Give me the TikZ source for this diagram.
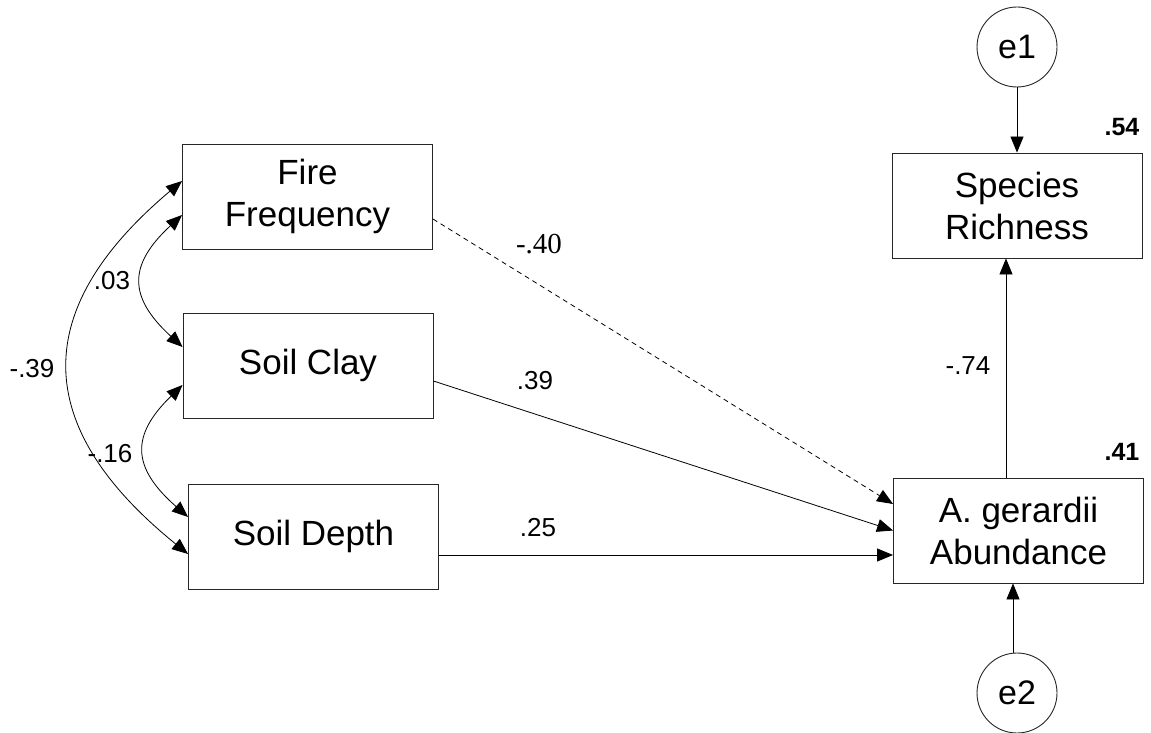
\documentclass[tikz,border=0pt]{standalone}
\usepackage{fontspec}
\setmainfont{Liberation Sans}
\newfontfamily\timesfont{Liberation Serif}
\usetikzlibrary{arrows.meta,calc}
\begin{document}
\begin{tikzpicture}[x=1pt,y=-1pt,
  var/.style={draw=black!85, line width=0.9pt, minimum width=250pt,
    minimum height=105pt, inner sep=0pt, align=center,
    font=\fontsize{35}{42}\selectfont},
  err/.style={draw=black!85, line width=0.9pt, circle, minimum size=80pt,
    inner sep=0pt, font=\fontsize{34}{40}\selectfont},
  effect/.style={line width=0.8pt, -{Triangle[length=16pt,width=13pt]}},
  cov/.style={line width=0.8pt,
    {Triangle[length=16pt,width=13pt]}-{Triangle[length=16pt,width=13pt]}},
  coef/.style={font=\fontsize{26}{30}\selectfont, inner sep=0pt},
  rsq/.style={font=\bfseries\fontsize{25}{30}\selectfont, inner sep=0pt}]

\useasboundingbox (0,0) rectangle (1151,733);

% observed variables
\node[var] (ff) at (307.5,196.5) {Fire\\Frequency};
\node[var] (sc) at (308,365.5)   {Soil Clay};
\node[var] (sd) at (313.5,536.5) {Soil Depth};
\node[var] (sr) at (1017,205.5)  {Species\\Richness};
\node[var] (ag) at (1018.5,530.5) {A. gerardii\\Abundance};

% error terms
\node[err] (e1) at (1017,47)  {e1};
\node[err] (e2) at (1017,693) {e2};

% correlations among the exogenous variables
\draw[cov] ([yshift=15.5pt]ff.west) .. controls (30,309) and (30,426) .. ([yshift=-17.5pt]sd.west);
\draw[cov] ([yshift=-18.5pt]ff.west) .. controls (128,265) and (128,297) .. ([yshift=18.5pt]sc.west);
\draw[cov] ([yshift=-19.5pt]sc.west) .. controls (131,435) and (131,467) .. ([yshift=19.5pt]sd.west);

% direct effects
\draw[effect, dash pattern=on 5pt off 4pt] ([yshift=-22.5pt]ff.east) -- ([yshift=26.5pt]ag.west);
\draw[effect] ([yshift=-15.5pt]sc.east) -- (ag.west);
\draw[effect] ([yshift=-18.5pt]sd.east) -- ([yshift=-24.5pt]ag.west);
\draw[effect] ([xshift=-12.5pt]ag.north) -- ([xshift=-12.5pt]ag.north |- sr.south);
\draw[effect] (e1.south) -- (e1.south |- sr.north);
\draw[effect] ([xshift=-4pt]e2.north) -- ([xshift=-4pt]e2.north |- ag.south);

% coefficients
\node[coef] (c1) at (32,369)  {-.39};
\node[coef] (c2) at (112,281) {.03};
\node[coef] (c3) at (110,454) {-.16};
\node[coef, font=\timesfont\fontsize{29}{33}\selectfont] (c4) at (539,244) {-.40};
\node[coef] (c5) at (535,381) {.39};
\node[coef] (c6) at (538,528) {.25};
\node[coef] (c7) at (968,366) {-.74};

% squared multiple correlations
\node[rsq] (r1) at (1122,127) {.54};
\node[rsq] (r2) at (1122,452) {.41};
\end{tikzpicture}
\end{document}
